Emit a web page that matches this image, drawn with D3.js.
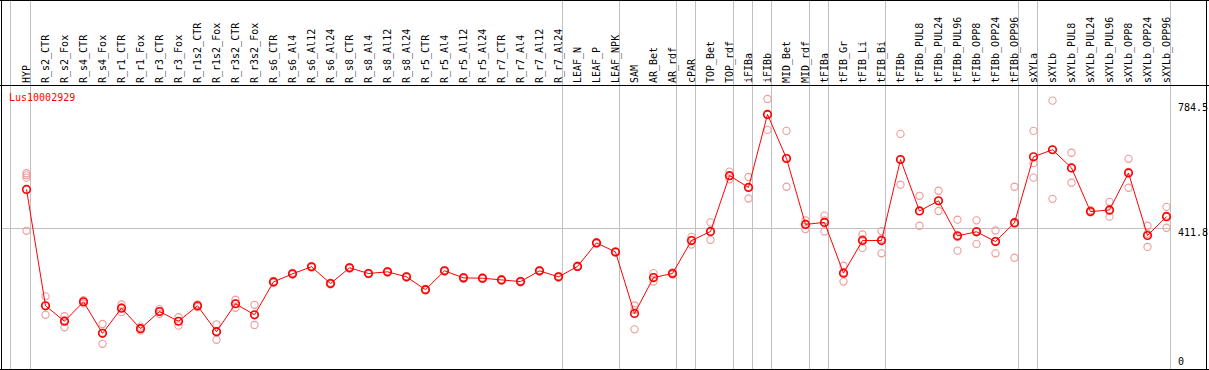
<!DOCTYPE html>
<html>
<head>
<meta charset="utf-8">
<script src="https://cdn.jsdelivr.net/npm/d3@7"></script>
<style>
  html, body { margin: 0; padding: 0; background: #fff; }
  svg { display: block; }
  text { font-family: "DejaVu Sans Mono", monospace; font-size: 10px; }
</style>
</head>
<body>
<svg id="chart" width="1209" height="370"></svg>
<script>
const title = "Lus10002929";
const categories = ["HYP","R_s2_CTR","R_s2_Fox","R_s4_CTR","R_s4_Fox","R_r1_CTR","R_r1_Fox","R_r3_CTR","R_r3_Fox",
  "R_r1s2_CTR","R_r1s2_Fox","R_r3s2_CTR","R_r3s2_Fox","R_s6_CTR","R_s6_Al4","R_s6_Al12","R_s6_Al24",
  "R_s8_CTR","R_s8_Al4","R_s8_Al12","R_s8_Al24","R_r5_CTR","R_r5_Al4","R_r5_Al12","R_r5_Al24",
  "R_r7_CTR","R_r7_Al4","R_r7_Al12","R_r7_Al24","LEAF_N","LEAF_P","LEAF_NPK","SAM","AR_Bet","AR_rdf",
  "cPAR","TOP_Bet","TOP_rdf","iFIBa","iFIBb","MID_Bet","MID_rdf","tFIBa","tFIB_Gr","tFIB_Li","tFIB_Bi",
  "tFIBb","tFIBb_PUL8","tFIBb_PUL24","tFIBb_PUL96","tFIBb_OPP8","tFIBb_OPP24","tFIBb_OPP96",
  "sXYLa","sXYLb","sXYLb_PUL8","sXYLb_PUL24","sXYLb_PUL96","sXYLb_OPP8","sXYLb_OPP24","sXYLb_OPP96"];
const means = [528,182,136,194,100,175,114,165,136,182,105,188,155,253,277,298,248,295,278,283,268,230,286,265,264,259,254,286,268,299,369,342,
  159,266,278,376,403,569,534,751,620,424,430,279,376,376,
  617,464,494,390,402,373,429,
  625,646,592,462,467,577,391,447];
const replicates = [
  [576,570,563,405],[210,155,182],[151,118,139],[199,194,189],[128,69,102],[186,163,177],[120,108,115],[172,158,165],[148,123,137],
  [186,178,182],[127,81,106],[200,176,188],[185,125,155],[256,251,253],[280,275,276],[300,296,298],[251,246,248],
  [297,293,295],[280,276,278],[285,281,283],[270,266,268],[232,228,230],[288,284,286],[267,263,265],[266,262,264],
  [261,257,259],[256,252,254],[288,284,286],[270,266,268],[301,297,299],[371,367,369],[344,340,342],
  [183,170,112],[279,254,266],[281,275,278],[387,364,377],[430,378,401],[581,558,568],[565,501,535],[797,705,750],
  [702,536,622],[436,410,426],[450,403,436],[301,254,282],[394,354,380],[404,338,381],
  [693,542,616],[509,420,464],[524,464,494],[438,346,386],[436,366,404],[406,338,375],[536,325,426],
  [702,606,563],[792,500,646],[637,548,592],[466,460,461],[491,447,464],[619,533,580],[420,357,396],[476,414,450]];
const yTicks = [0, 411.8, 784.5];
const gridValues = [411.8];
const groupEnds = [0, 28, 31, 34, 35, 37, 38, 39, 41, 42, 45, 52, 53, 60];

const svg = d3.select("#chart");
const W = 1209, H = 370;
const headerBottom = 85.5, plotBottom = 369.5, leftEdge = 1.5, rightEdge = 1206.5;

const x = d3.scalePoint().domain(categories).range([26.5, 1166.5]);
const step = x.step();
const y = d3.scaleLinear().domain([0, 784.5]).range([367, 103.15]);

// vertical group separators
const vlines = [x(categories[0]) - 16].concat(groupEnds.map(i => x(categories[i]) + 4));
svg.append("g").selectAll("line").data(vlines).join("line")
  .attr("x1", d => d).attr("x2", d => d).attr("y1", 0).attr("y2", plotBottom)
  .attr("stroke", "#c0c0c0").attr("stroke-width", 1).attr("shape-rendering", "crispEdges");

// horizontal gridline
svg.append("g").selectAll("line").data(gridValues).join("line")
  .attr("x1", leftEdge).attr("x2", x(categories[60]) + 4)
  .attr("y1", d => Math.round(y(d)) + 0.5).attr("y2", d => Math.round(y(d)) + 0.5)
  .attr("stroke", "#c0c0c0").attr("stroke-width", 1).attr("shape-rendering", "crispEdges");

// frame
const frame = svg.append("g").attr("stroke", "#000").attr("stroke-width", 1).attr("shape-rendering", "crispEdges");
frame.append("line").attr("x1", 0).attr("x2", W).attr("y1", 0.5).attr("y2", 0.5);
frame.append("line").attr("x1", 0).attr("x2", W).attr("y1", headerBottom).attr("y2", headerBottom);
frame.append("line").attr("x1", 0).attr("x2", W).attr("y1", plotBottom).attr("y2", plotBottom);
frame.append("line").attr("x1", leftEdge).attr("x2", leftEdge).attr("y1", 0).attr("y2", H);
frame.append("line").attr("x1", rightEdge).attr("x2", rightEdge).attr("y1", 0).attr("y2", H);

// header labels
svg.append("g").selectAll("text").data(categories).join("text")
  .attr("transform", d => `translate(${x(d) + 3.5},83) rotate(-90)`)
  .attr("text-anchor", "start")
  .attr("fill", "#000")
  .text(d => d);

// title
svg.append("text").attr("x", 9).attr("y", 100.5).attr("fill", "#ff0000").text(title);

// y tick labels
svg.append("g").selectAll("text").data(yTicks).join("text")
  .attr("x", 1178)
  .attr("y", d => Math.min(y(d) + 8, 365))
  .attr("fill", "#000")
  .text(d => String(d));

// replicate points
const repData = [];
replicates.forEach((arr, i) => arr.forEach(v => repData.push({c: categories[i], v})));
svg.append("g").selectAll("circle").data(repData).join("circle")
  .attr("cx", d => x(d.c)).attr("cy", d => y(d.v)).attr("r", 3.6)
  .attr("fill", "none").attr("stroke", "#f09a9a").attr("stroke-width", 1.1);

// mean line
const meanData = categories.map((c, i) => ({c, v: means[i]}));
svg.append("path").datum(meanData)
  .attr("d", d3.line().x(d => x(d.c)).y(d => y(d.v)))
  .attr("fill", "none").attr("stroke", "#ff0000").attr("stroke-width", 1);

// mean markers
svg.append("g").selectAll("circle").data(meanData).join("circle")
  .attr("cx", d => x(d.c)).attr("cy", d => y(d.v)).attr("r", 3.8)
  .attr("fill", "none").attr("stroke", "#ff0000").attr("stroke-width", 1.6);
</script>
</body>
</html>
